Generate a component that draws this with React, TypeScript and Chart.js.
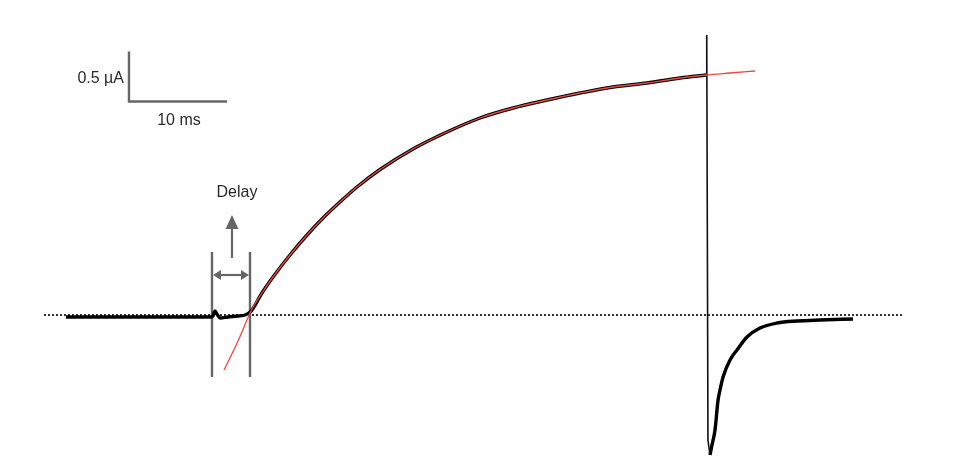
import React, { useEffect, useRef } from "react";
import { Chart, registerables } from "chart.js";

Chart.register(...registerables);

// Time in ms (0 = onset of the current), current in µA (0 = baseline)
const fitTime = [-2.65, -1.22, 0.2, 1.22, 2.35, 4.08, 5.82, 7.45, 9.18, 10.92, 13.27, 16.63, 20.1, 23.47, 26.84, 30.31, 33.67, 37.04, 40.51, 43.88, 46.53, 48.98, 51.53];
const fitCurrent = [-0.55, -0.26, 0.06, 0.22, 0.38, 0.6, 0.8, 0.97, 1.13, 1.28, 1.455, 1.66, 1.83, 1.97, 2.07, 2.15, 2.22, 2.28, 2.32, 2.37, 2.4, 2.42, 2.44];

const traceTime = [-18.78, -15.31, -10.2, -5.1, -4.08, -3.78, -3.57, -3.37, -3.06, -2.24, -1.22, -0.51, 0, 0.2, 1.22, 2.35, 4.08, 5.82, 7.45, 9.18, 10.92, 13.27, 16.63, 20.1, 23.47, 26.84, 30.31, 33.67, 37.04, 40.51, 43.88, 46.53];
const traceCurrent = [-0.02, -0.02, -0.02, -0.02, -0.02, -0.01, 0.04, 0.01, -0.03, -0.02, -0.01, 0, 0.03, 0.05, 0.22, 0.38, 0.6, 0.8, 0.97, 1.13, 1.28, 1.455, 1.66, 1.83, 1.97, 2.07, 2.15, 2.22, 2.28, 2.32, 2.37, 2.4];

const spikeTime = [46.53, 46.58, 46.63, 46.73, 46.94];
const spikeCurrent = [2.4, 2.8, 2.8, -1.25, -1.4];

const tailTime = [46.94, 47.14, 47.45, 47.76, 47.96, 48.27, 48.98, 49.69, 50.71, 52.04, 53.78, 55.82, 58.16, 61.53];
const tailCurrent = [-1.4, -1.3, -1.15, -0.85, -0.75, -0.62, -0.45, -0.35, -0.22, -0.13, -0.08, -0.06, -0.05, -0.04];

const baselineTime = [-21.02, 66.63];
const baselineCurrent = [0, 0];

// Scale bar (data units)
const scaleBarOrigin = [-12.35, 2.135];
const scaleBarTimeLength = 10;
const scaleBarCurrentLength = 0.5;
const scaleBarLabels = ["0.5 µA", "10 ms"];

// Delay annotation (data units)
const delayTimes = [-3.88, 0];
const delayMarkerRange = [-0.62, 0.63];
const delayArrowLevel = 0.4;
const delayUpArrow = [0.57, 1.0];
const delayLabelLevel = 1.22;
const delayLabel = "Delay";

const xRange = [-25.51, 74.08];
const yRange = [-1.51, 3.15];

const toPoints = (xs: number[], ys: number[]) => xs.map((x, i) => ({ x, y: ys[i] }));

const GRAY = "#666666";
const TEXT = "#2a2a2a";
const FONT = '16px "Liberation Sans", Arial, sans-serif';

function tri(ctx: CanvasRenderingContext2D, pts: number[][]) {
  ctx.beginPath();
  ctx.moveTo(pts[0][0], pts[0][1]);
  ctx.lineTo(pts[1][0], pts[1][1]);
  ctx.lineTo(pts[2][0], pts[2][1]);
  ctx.closePath();
  ctx.fill();
}

const annotationPlugin = {
  id: "annotations",
  beforeDatasetsDraw(chart: any) {
    const ctx: CanvasRenderingContext2D = chart.ctx;
    const xs = chart.scales.x;
    const ys = chart.scales.y;
    ctx.save();
    ctx.strokeStyle = GRAY;
    ctx.fillStyle = GRAY;
    ctx.lineWidth = 2.4;
    ctx.lineCap = "butt";

    // scale bar
    const x0 = xs.getPixelForValue(scaleBarOrigin[0]);
    const y0 = ys.getPixelForValue(scaleBarOrigin[1]);
    const x1 = xs.getPixelForValue(scaleBarOrigin[0] + scaleBarTimeLength);
    const y1 = ys.getPixelForValue(scaleBarOrigin[1] + scaleBarCurrentLength);
    ctx.beginPath();
    ctx.moveTo(x0, y1);
    ctx.lineTo(x0, y0);
    ctx.lineTo(x1, y0);
    ctx.stroke();

    // delay markers
    const dA = xs.getPixelForValue(delayTimes[0]);
    const dB = xs.getPixelForValue(delayTimes[1]);
    const top = ys.getPixelForValue(delayMarkerRange[1]);
    const bot = ys.getPixelForValue(delayMarkerRange[0]);
    ctx.beginPath();
    ctx.moveTo(dA, top);
    ctx.lineTo(dA, bot);
    ctx.moveTo(dB, top);
    ctx.lineTo(dB, bot);
    ctx.stroke();

    // double arrow
    const ay = ys.getPixelForValue(delayArrowLevel);
    const head = 8;
    ctx.lineWidth = 2.2;
    ctx.beginPath();
    ctx.moveTo(dA + head, ay);
    ctx.lineTo(dB - head, ay);
    ctx.stroke();
    tri(ctx, [[dA + 1, ay], [dA + 1 + head, ay - 5], [dA + 1 + head, ay + 5]]);
    tri(ctx, [[dB - 1, ay], [dB - 1 - head, ay - 5], [dB - 1 - head, ay + 5]]);

    // up arrow
    const ux = (dA + dB) / 2 + 1;
    const uBot = ys.getPixelForValue(delayUpArrow[0]);
    const uTip = ys.getPixelForValue(delayUpArrow[1]);
    ctx.beginPath();
    ctx.moveTo(ux, uBot);
    ctx.lineTo(ux, uTip + 12);
    ctx.stroke();
    tri(ctx, [[ux, uTip], [ux - 6.5, uTip + 14], [ux + 6.5, uTip + 14]]);

    // texts
    ctx.fillStyle = TEXT;
    ctx.font = FONT;
    ctx.textBaseline = "middle";
    ctx.textAlign = "right";
    ctx.fillText(scaleBarLabels[0], x0 - 5, (y0 + y1) / 2 + 2);
    ctx.textAlign = "center";
    ctx.fillText(scaleBarLabels[1], (x0 + x1) / 2 + 1, y0 + 19);
    ctx.fillText(delayLabel, ux + 5, ys.getPixelForValue(delayLabelLevel));
    ctx.restore();
  },
};

export default function App() {
  const ref = useRef<HTMLCanvasElement | null>(null);
  useEffect(() => {
    if (!ref.current) return;
    const chart = new Chart(ref.current, {
      type: "line",
      data: {
        datasets: [
          {
            label: "Fit",
            data: toPoints(fitTime, fitCurrent),
            borderColor: "#ea4a42",
            borderWidth: 1.3,
            pointRadius: 0,
            cubicInterpolationMode: "monotone",
          },
          {
            label: "Trace",
            data: toPoints(traceTime, traceCurrent),
            borderColor: "#000000",
            borderWidth: 3.4,
            pointRadius: 0,
            cubicInterpolationMode: "monotone",
          },
          {
            label: "Transient",
            data: toPoints(spikeTime, spikeCurrent),
            borderColor: "#111111",
            borderWidth: 1.6,
            pointRadius: 0,
            tension: 0,
          },
          {
            label: "Tail",
            data: toPoints(tailTime, tailCurrent),
            borderColor: "#000000",
            borderWidth: 3.4,
            pointRadius: 0,
            cubicInterpolationMode: "monotone",
          },
          {
            label: "Baseline",
            data: toPoints(baselineTime, baselineCurrent),
            borderColor: "#333333",
            borderWidth: 2,
            borderDash: [2, 2],
            pointRadius: 0,
            tension: 0,
          },
        ],
      } as any,
      options: {
        animation: false,
        responsive: false,
        devicePixelRatio: 1,
        layout: { padding: 0 },
        plugins: {
          legend: { display: false },
          tooltip: { enabled: false },
          title: { display: false },
        },
        scales: {
          x: { type: "linear", min: xRange[0], max: xRange[1], display: false },
          y: { type: "linear", min: yRange[0], max: yRange[1], display: false },
        },
      } as any,
      plugins: [annotationPlugin],
    });
    return () => chart.destroy();
  }, []);
  return (
    <div style={{ position: "absolute", left: 0, top: 0, width: 976, height: 466, background: "#ffffff" }}>
      <canvas ref={ref} width={976} height={466} style={{ width: 976, height: 466, display: "block" }} />
    </div>
  );
}
